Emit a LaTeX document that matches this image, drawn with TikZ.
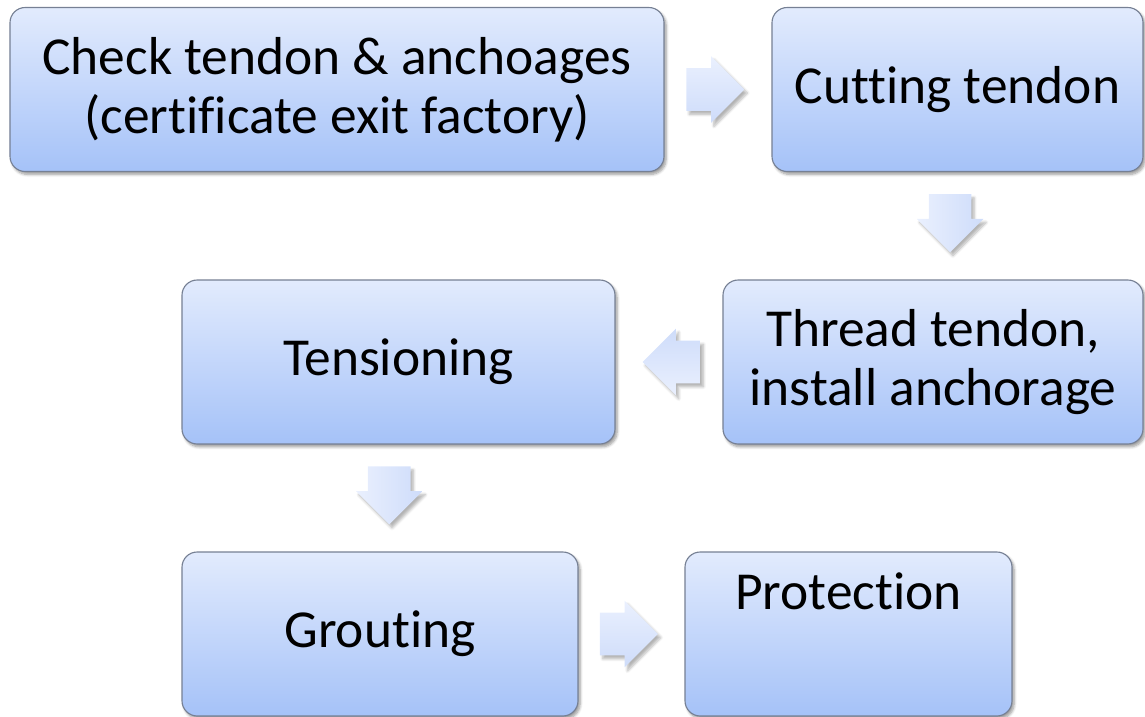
\documentclass[tikz,border=0pt]{standalone}
\usepackage{fontspec}
\setmainfont[Ligatures=NoCommon]{Carlito}
\usetikzlibrary{calc, shapes.arrows, shadows.blur}
\definecolor{box-top}{RGB}{226,235,253}
\definecolor{box-bottom}{RGB}{165,194,248}
\definecolor{box-line}{RGB}{118,128,148}
\definecolor{arrow-top}{RGB}{234,240,254}
\definecolor{arrow-bottom}{RGB}{206,220,250}

\begin{document}
\begin{tikzpicture}[
    every node/.style={font=\fontsize{38}{42}\selectfont},
    stepbox/.style={draw=box-line, line width=0.8pt, rounded corners=0.38cm,
      top color=box-top, bottom color=box-bottom, minimum height=4.1cm,
      align=center, inner sep=0pt,
      blur shadow={shadow xshift=1.5pt, shadow yshift=-2pt, shadow blur steps=6, shadow opacity=40}},
    flowarrow/.style={single arrow, draw=none, inner sep=0pt,
      text height=1.05cm, text depth=0pt,
      minimum height=1.45cm, single arrow head extend=0.3cm,
      blur shadow={shadow xshift=2pt, shadow yshift=-2.5pt, shadow blur steps=6, shadow opacity=30}},
    arrow right/.style={flowarrow, top color=arrow-top, bottom color=arrow-bottom},
    arrow left/.style={flowarrow, rotate=180, top color=arrow-bottom, bottom color=arrow-top},
    arrow down/.style={flowarrow, rotate=-90, left color=arrow-top, right color=arrow-bottom}]
    \useasboundingbox (0, 0) rectangle (28.625, -17.925);
    % first row
    \node[stepbox, minimum width=16.35cm] (check) at (8.425, -2.2375)
      {Check tendon \& anchoages\\(certificate exit factory)};
    \node[stepbox, minimum width=9.275cm] (cut) at (23.9375, -2.2375)
      {Cutting tendon};
    % second row
    \node[stepbox, minimum width=10.5cm] (thread) at (23.325, -9.05)
      {Thread tendon,\\install anchorage};
    \node[stepbox, minimum width=10.825cm] (tens) at (9.9625, -9.05)
      {Tensioning};
    % third row
    \node[stepbox, minimum width=9.9cm] (grout) at (9.5, -15.85)
      {Grouting};
    \node[stepbox, minimum width=8.175cm, text height=0.9cm, text depth=2.15cm] (prot) at (21.2125, -15.85)
      {Protection};
    % block arrows between the steps (pulled back a bit, the tip sticks out)
    \node[arrow right] (a1) at ($(check.east)!0.5!(cut.west) + (-0.33, 0)$) {};
    \node[arrow down] (a2) at ($(cut.south)!0.5!(thread.north) + (0.12, 0.33)$) {};
    \node[arrow left] (a3) at ($(thread.west)!0.5!(tens.east) + (0.33, 0)$) {};
    \node[arrow down] (a4) at ($(tens.south)!0.5!(grout.north) + (0, 0.33)$) {};
    \node[arrow right] (a5) at ($(grout.east)!0.5!(prot.west) + (-0.33, 0)$) {};
  \end{tikzpicture}
\end{document}
